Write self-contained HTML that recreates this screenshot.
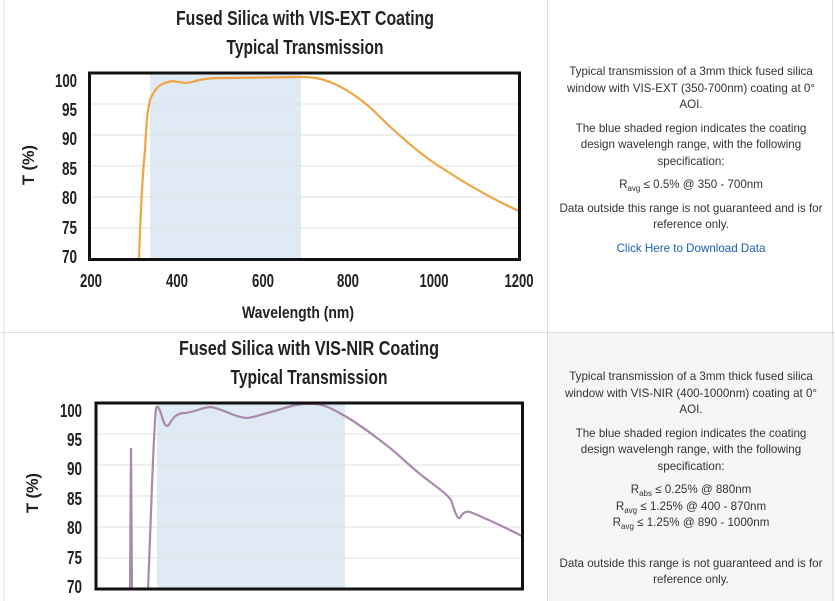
<!DOCTYPE html>
<html><head><meta charset="utf-8"><style>
body{margin:0;width:835px;height:601px;overflow:hidden;background:#fff;font-family:"Liberation Sans",sans-serif}
.r{position:absolute;left:549px;width:284px;text-align:center;font-size:11.6px;line-height:16.5px;color:#333}
.r p{margin:0 0 7px 0;padding:0 9px}
.r p.n{padding:0 20px}
sub{font-size:8px;line-height:0;vertical-align:-3px}
</style></head><body>
<div style="position:absolute;left:548px;top:333px;width:287px;height:268px;background:#f6f6f6"></div>
<svg width="835" height="601" style="position:absolute;left:0;top:0" font-family="Liberation Sans, sans-serif">
<g stroke="#ddd" stroke-width="1" fill="none">
<line x1="4" y1="0" x2="4" y2="601"/><line x1="547.5" y1="0" x2="547.5" y2="601"/>
<line x1="0" y1="332.5" x2="835" y2="332.5"/><line x1="832.5" y1="0" x2="832.5" y2="601"/>
</g>
<g font-weight="bold" fill="#222" text-anchor="middle">
<text x="305" y="25" font-size="20" textLength="258" lengthAdjust="spacingAndGlyphs">Fused Silica with VIS-EXT Coating</text>
<text x="305" y="54" font-size="20" textLength="157" lengthAdjust="spacingAndGlyphs">Typical Transmission</text>
<text x="298" y="318" font-size="17" textLength="112" lengthAdjust="spacingAndGlyphs">Wavelength (nm)</text>
<text transform="translate(34,165) rotate(-90)" font-size="17" textLength="40" lengthAdjust="spacingAndGlyphs">T (%)</text>
</g>
<rect x="150" y="74" width="151" height="185" fill="#dfeaf5"/>
<g stroke="#e2e2e2"><line x1="90" x2="520" y1="104" y2="104"/><line x1="90" x2="520" y1="135" y2="135"/><line x1="90" x2="520" y1="166" y2="166"/><line x1="90" x2="520" y1="197" y2="197"/><line x1="90" x2="520" y1="228" y2="228"/></g>
<path d="M139,259 C141,200 143,170 145,150 C147,110 149,99 153,94 C157,86 162,83 172,81 C180,82 185,84 192,82 C205,78 215,78 225,78 L300,77 C312,77 320,78 330,82 C345,88 360,98 375,112 C395,132 420,155 445,170 C465,183 490,198 519,211" fill="none" stroke="#f0a545" stroke-width="2.2"/>
<rect x="89.5" y="73" width="430" height="186.5" fill="none" stroke="#111" stroke-width="3"/>
<g font-size="18" font-weight="bold" fill="#222" text-anchor="end">
<text x="77" y="87" textLength="22" lengthAdjust="spacingAndGlyphs">100</text><text x="77" y="116" textLength="15" lengthAdjust="spacingAndGlyphs">95</text><text x="77" y="145" textLength="15" lengthAdjust="spacingAndGlyphs">90</text><text x="77" y="175" textLength="15" lengthAdjust="spacingAndGlyphs">85</text><text x="77" y="204" textLength="15" lengthAdjust="spacingAndGlyphs">80</text><text x="77" y="234" textLength="15" lengthAdjust="spacingAndGlyphs">75</text><text x="77" y="263" textLength="15" lengthAdjust="spacingAndGlyphs">70</text>
</g>
<g font-size="18" font-weight="bold" fill="#222" text-anchor="middle">
<text x="91" y="287" textLength="22" lengthAdjust="spacingAndGlyphs">200</text><text x="177" y="287" textLength="22" lengthAdjust="spacingAndGlyphs">400</text><text x="263" y="287" textLength="22" lengthAdjust="spacingAndGlyphs">600</text><text x="348" y="287" textLength="22" lengthAdjust="spacingAndGlyphs">800</text><text x="434" y="287" textLength="29" lengthAdjust="spacingAndGlyphs">1000</text><text x="519" y="287" textLength="29" lengthAdjust="spacingAndGlyphs">1200</text>
</g>
<g font-weight="bold" fill="#222" text-anchor="middle">
<text x="309" y="355" font-size="20" textLength="260" lengthAdjust="spacingAndGlyphs">Fused Silica with VIS-NIR Coating</text>
<text x="309" y="384" font-size="20" textLength="157" lengthAdjust="spacingAndGlyphs">Typical Transmission</text>
<text transform="translate(38,493) rotate(-90)" font-size="17" textLength="40" lengthAdjust="spacingAndGlyphs">T (%)</text>
</g>
<rect x="157" y="404" width="188" height="184" fill="#dfeaf5"/>
<g stroke="#e2e2e2"><line x1="96" x2="523" y1="434" y2="434"/><line x1="96" x2="523" y1="465" y2="465"/><line x1="96" x2="523" y1="496" y2="496"/><line x1="96" x2="523" y1="527" y2="527"/><line x1="96" x2="523" y1="558" y2="558"/></g>
<path d="M130,589 L131,448 L132,589 M148,589 C151,520 153,440 156,408 C158,404 160,410 163,420 C165,426 167,428 170,423 C174,416 178,413 185,413 C195,412 200,408 210,407 C222,408 235,418 248,418 C260,416 265,413 275,411 C290,406 300,403 315,404 C328,405 335,411 345,416 C360,425 375,436 390,448 C400,456 410,466 420,474 C435,486 445,492 451,500 C455,512 457,519 460,518 C463,512 466,511 470,512 C490,520 510,530 522,536" fill="none" stroke="#a88aad" stroke-width="2.2"/>
<rect x="96" y="403" width="426.5" height="186" fill="none" stroke="#111" stroke-width="3"/>
<g font-size="18" font-weight="bold" fill="#222" text-anchor="end">
<text x="82" y="417" textLength="22" lengthAdjust="spacingAndGlyphs">100</text><text x="82" y="446" textLength="15" lengthAdjust="spacingAndGlyphs">95</text><text x="82" y="475" textLength="15" lengthAdjust="spacingAndGlyphs">90</text><text x="82" y="505" textLength="15" lengthAdjust="spacingAndGlyphs">85</text><text x="82" y="534" textLength="15" lengthAdjust="spacingAndGlyphs">80</text><text x="82" y="564" textLength="15" lengthAdjust="spacingAndGlyphs">75</text><text x="82" y="593" textLength="15" lengthAdjust="spacingAndGlyphs">70</text>
</g>
</svg>
<div class="r" style="top:64px">
<p>Typical transmission of a 3mm thick fused silica window with VIS-EXT (350-700nm) coating at 0° AOI.</p>
<p class="n">The blue shaded region indicates the coating design wavelengh range, with the following specification:</p>
<p>R<sub>avg</sub> ≤ 0.5% @ 350 - 700nm</p>
<p>Data outside this range is not guaranteed and is for reference only.</p>
<p style="color:#1d5fb0">Click Here to Download Data</p>
</div>
<div class="r" style="top:369px">
<p>Typical transmission of a 3mm thick fused silica window with VIS-NIR (400-1000nm) coating at 0° AOI.</p>
<p class="n">The blue shaded region indicates the coating design wavelengh range, with the following specification:</p>
<p style="margin-bottom:24px">R<sub>abs</sub> ≤ 0.25% @ 880nm<br>R<sub>avg</sub> ≤ 1.25% @ 400 - 870nm<br>R<sub>avg</sub> ≤ 1.25% @ 890 - 1000nm</p>
<p>Data outside this range is not guaranteed and is for reference only.</p>
</div>
</body></html>
